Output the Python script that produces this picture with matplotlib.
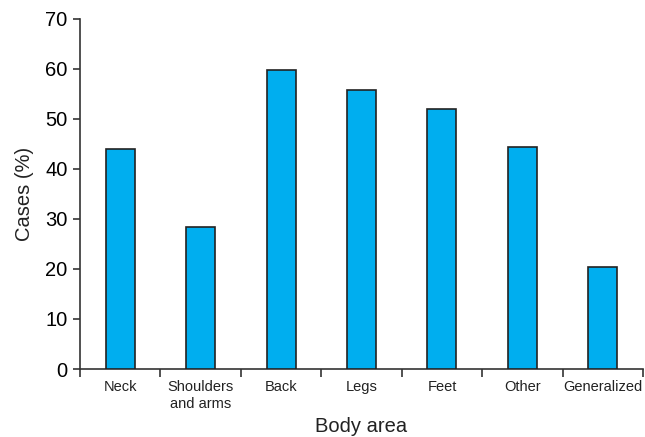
import matplotlib
matplotlib.use('Agg')
import matplotlib.pyplot as plt
import numpy as np

plt.rcParams['font.family'] = ['Liberation Sans', 'DejaVu Sans']

# data
areas = ['Neck', 'Shoulders\nand arms', 'Back', 'Legs', 'Feet', 'Other', 'Generalized']
cases = [43.9, 28.3, 59.7, 55.7, 52.0, 44.3, 20.4]

fig = plt.figure(figsize=(6.45, 4.37), dpi=100)
ax = fig.add_axes([0.124, 0.1556, 0.873, 0.801])

x = np.arange(len(areas))
ax.bar(x, cases, width=0.36, color='#00AEEF', edgecolor='#222222', linewidth=1.2, zorder=3)

# axis limits and ticks
ax.set_xlim(-0.5, len(areas) - 0.5)
ax.set_ylim(0, 70)
ax.set_yticks(np.arange(0, 71, 10))
ax.tick_params(axis='y', labelsize=14.5, length=5, width=1.2, color='#333333', pad=4)

# labels at the bar centres, tick marks at category boundaries
ax.set_xticks(x)
ax.set_xticklabels(areas, fontsize=10.5, linespacing=1.3, color='#222222')
ax.tick_params(axis='x', which='major', length=0, pad=8)
ax.set_xticks(np.arange(len(areas) + 1) - 0.5, minor=True)
ax.tick_params(axis='x', which='minor', length=6, width=1.2, color='#333333')

for s in ['top', 'right']:
    ax.spines[s].set_visible(False)
for s in ['left', 'bottom']:
    ax.spines[s].set_linewidth(1.2)
    ax.spines[s].set_color('#333333')

ax.set_ylabel('Cases (%)', fontsize=14.5, labelpad=8, color='#222222')
ax.set_xlabel('Body area', fontsize=14.5, color='#222222')
ax.xaxis.set_label_coords(0.5, -0.136)

fig.savefig('out.png', dpi=100)
